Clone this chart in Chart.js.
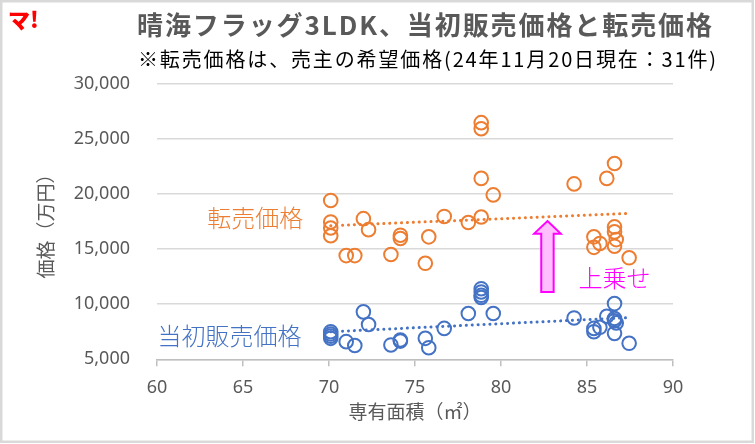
<!DOCTYPE html>
<html><head><meta charset="utf-8">
<script src="https://cdn.jsdelivr.net/npm/chart.js@4"></script>
<style>html,body{margin:0;padding:0;background:#fff}#wrap{width:755px;height:444px;position:relative}</style>
</head><body><div id="wrap"><canvas id="c" width="755" height="444"></canvas></div>
<script>
// ---- data ----
const areas         = [70.1, 70.1, 70.1, 70.1, 71.0, 71.5, 72.0, 72.3, 73.6, 74.15, 74.15, 75.6, 75.8, 76.7, 78.1, 78.85, 78.85, 78.85, 78.85, 79.55, 84.25, 85.4, 85.4, 85.75, 86.15, 86.6, 86.6, 86.6, 86.7, 86.6, 87.45];
const initialPrices = [7500, 7300, 7100, 6900, 6600, 6250, 9300, 8150, 6300, 6650, 6750, 6900, 6050, 7800, 9150, 11400, 11100, 10800, 10600, 9150, 8750, 7800, 7500, 7900, 8900, 10050, 8500, 8700, 8300, 7350, 6450];
const resalePrices  = [19400, 17450, 16900, 16200, 14400, 14400, 17750, 16750, 14500, 16250, 15950, 13700, 16100, 17950, 17400, 26450, 25900, 21400, 17900, 19900, 20900, 16100, 15150, 15500, 21400, 22750, 17000, 16550, 15850, 15250, 14200];
const xTickValues = [60, 65, 70, 75, 80, 85, 90];
const yTickValues = [5000, 10000, 15000, 20000, 25000, 30000];
const titleText = '晴海フラッグ3LDK、当初販売価格と転売価格';
const subtitleText = '※転売価格は、売主の希望価格(24年11月20日現在：31件)';
const xAxisTitle = '専有面積（㎡）';
const yAxisTitle = '価格（万円）';
const resaleLabel = '転売価格';
const initialLabel = '当初販売価格';
const markupLabel = '上乗せ';
const logoText = 'マ!';
// annotation anchors in data units
const resaleLabelAt = [68.5, 17800];
const initialLabelAt = [68.4, 7100];
const markupLabelAt = [84.5, 12350];
const arrowAt = {x: 82.7, tip: 17530, headBase: 16390, bottom: 11110};

const ORANGE = '#ED7D31', BLUE = '#4472C4', GRAY = '#595959', MAGENTA = '#FF00FF';
const CJK = '"Noto Sans CJK JP", "Noto Sans", sans-serif';
const NUM = '"Noto Sans", "DejaVu Sans", sans-serif';

function regression(xs, ys) {
  const n = xs.length;
  const mx = xs.reduce((a, b) => a + b, 0) / n;
  const my = ys.reduce((a, b) => a + b, 0) / n;
  let sxy = 0, sxx = 0;
  for (let i = 0; i < n; i++) { sxy += (xs[i] - mx) * (ys[i] - my); sxx += (xs[i] - mx) ** 2; }
  const b = sxy / sxx, a = my - b * mx;
  const x0 = Math.min(...xs), x1 = Math.max(...xs);
  return [{x: x0, y: a + b * x0}, {x: x1, y: a + b * x1}];
}

const pts = ys => areas.map((a, i) => ({x: a, y: ys[i]}));

function fitText(ctx, text, x, y, w, font, color) {
  ctx.save();
  ctx.font = font; ctx.fillStyle = color; ctx.textAlign = 'left'; ctx.textBaseline = 'middle';
  ctx.letterSpacing = '0px';
  const m = ctx.measureText(text).width;
  const n = [...text].length;
  ctx.letterSpacing = ((w - m) / (n - 0.5)) + 'px';
  ctx.fillText(text, x, y);
  ctx.restore();
}

const decor = {
  id: 'decor',
  beforeDraw(chart) {
    const c = chart.ctx; c.save(); c.fillStyle = '#fff'; c.fillRect(0, 0, chart.width, chart.height); c.restore();
  },
  afterDraw(chart) {
    const c = chart.ctx, sx = chart.scales.x, sy = chart.scales.y;
    c.save();
    // border
    c.strokeStyle = '#d9d9d9'; c.lineWidth = 2.5;
    c.strokeRect(1.25, 1.25, chart.width - 3.5, chart.height - 3.5);
    // logo
    c.font = '900 22px ' + CJK; c.fillStyle = '#ff0000'; c.textBaseline = 'middle'; c.textAlign = 'left';
    c.fillText(logoText, 8, 20);
    c.restore();
    fitText(c, titleText, 137, 25, 576, 'bold 26px ' + CJK, GRAY);
    fitText(c, subtitleText, 138, 59, 579, '20px ' + CJK, '#000');
    // labels
    c.save();
    c.textBaseline = 'middle';
    c.font = '300 24px ' + CJK;
    c.fillStyle = ORANGE; c.textAlign = 'right';
    c.fillText(resaleLabel, sx.getPixelForValue(resaleLabelAt[0]), sy.getPixelForValue(resaleLabelAt[1]));
    c.fillStyle = BLUE;
    c.fillText(initialLabel, sx.getPixelForValue(initialLabelAt[0]), sy.getPixelForValue(initialLabelAt[1]));
    c.fillStyle = MAGENTA; c.textAlign = 'left';
    c.fillText(markupLabel, sx.getPixelForValue(markupLabelAt[0]), sy.getPixelForValue(markupLabelAt[1]));
    // arrow
    const ax = sx.getPixelForValue(arrowAt.x), tip = sy.getPixelForValue(arrowAt.tip),
          hb = sy.getPixelForValue(arrowAt.headBase), bt = sy.getPixelForValue(arrowAt.bottom);
    const sw = 6.2, hw = 13.3;
    c.beginPath();
    c.moveTo(ax, tip); c.lineTo(ax + hw, hb); c.lineTo(ax + sw, hb); c.lineTo(ax + sw, bt);
    c.lineTo(ax - sw, bt); c.lineTo(ax - sw, hb); c.lineTo(ax - hw, hb); c.closePath();
    c.fillStyle = '#FFBFFF'; c.fill();
    c.strokeStyle = MAGENTA; c.lineWidth = 2; c.lineJoin = 'miter'; c.stroke();
    c.restore();
  }
};

const dotted = (data, color) => ({
  type: 'line', data, showLine: true, borderColor: color, borderWidth: 3,
  borderDash: [0.1, 5.8], borderCapStyle: 'round', pointRadius: 0, fill: false
});
const scatter = (data, color) => ({
  type: 'scatter', data, borderColor: color, backgroundColor: 'rgba(0,0,0,0)',
  pointRadius: 6.8, pointBorderWidth: 2, pointHoverRadius: 6.8
});

new Chart(document.getElementById('c'), {
  type: 'scatter',
  data: {
    datasets: [
      scatter(pts(resalePrices), ORANGE),
      scatter(pts(initialPrices), BLUE),
      dotted(regression(areas, resalePrices), ORANGE),
      dotted(regression(areas, initialPrices), BLUE)
    ]
  },
  options: {
    responsive: false, animation: false, events: [],
    layout: {padding: {left: 6, right: 82, top: 83.5, bottom: 0}},
    plugins: {legend: {display: false}, tooltip: {enabled: false}},
    scales: {
      x: {
        type: 'linear', min: 60, max: 90,
        afterBuildTicks: s => { s.ticks = xTickValues.map(v => ({value: v})); },
        ticks: {color: GRAY, font: {family: NUM, size: 18}, padding: 11},
        grid: {drawOnChartArea: false, drawTicks: true, tickLength: 7, color: '#bfbfbf', lineWidth: 1.5},
        border: {display: true, color: '#bfbfbf', width: 1.5},
        title: {display: true, text: xAxisTitle, color: GRAY, font: {family: CJK, size: 19}, padding: {top: 0, bottom: 21}},
        afterFit: s => { s.height = 84.7; }
      },
      y: {
        type: 'linear', min: 5000, max: 30000,
        afterBuildTicks: s => { s.ticks = yTickValues.map(v => ({value: v})); },
        ticks: {color: GRAY, font: {family: NUM, size: 18}, padding: 27, callback: v => v.toLocaleString('en-US')},
        grid: {color: '#d9d9d9', lineWidth: 1.5, drawTicks: false},
        border: {display: false},
        title: {display: true, text: yAxisTitle, color: GRAY, font: {family: CJK, size: 19}, padding: {top: 28, bottom: 0}},
        afterFit: s => { s.width = 151; }
      }
    }
  },
  plugins: [decor]
});
</script>
</body></html>
